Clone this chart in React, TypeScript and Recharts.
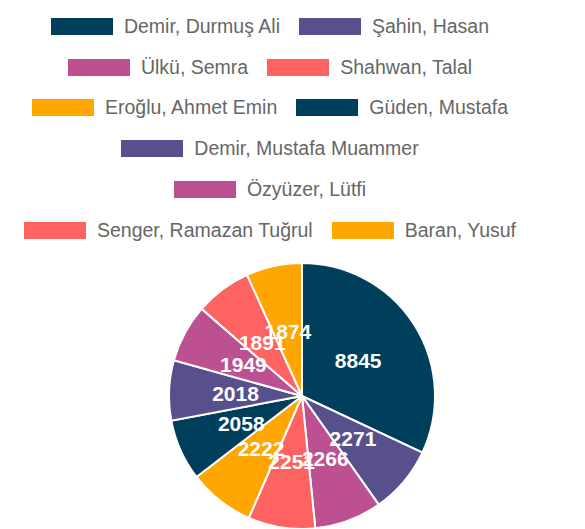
import React from "react";
import { PieChart, Pie, Cell, Legend } from "recharts";

const names = [
  "Demir, Durmuş Ali",
  "Şahin, Hasan",
  "Ülkü, Semra",
  "Shahwan, Talal",
  "Eroğlu, Ahmet Emin",
  "Güden, Mustafa",
  "Demir, Mustafa Muammer",
  "Özyüzer, Lütfi",
  "Senger, Ramazan Tuğrul",
  "Baran, Yusuf",
];

const counts = [8845, 2271, 2266, 2251, 2222, 2058, 2018, 1949, 1891, 1874];

const palette = ["#003f5c", "#58508d", "#bc5090", "#ff6361", "#ffa600"];

const data = names.map((name, i) => ({ name, value: counts[i] }));

// how the legend wraps in the original
const legendRows = [[0, 1], [2, 3], [4, 5], [6], [7], [8, 9]];

const RADIAN = Math.PI / 180;

const renderLabel = (props: any) => {
  const { cx, cy, midAngle, outerRadius, value } = props;
  const r = outerRadius / 2;
  const x = cx + r * Math.cos(-midAngle * RADIAN);
  const y = cy + r * Math.sin(-midAngle * RADIAN);
  return (
    <text
      x={x}
      y={y}
      fill="#ffffff"
      textAnchor="middle"
      dominantBaseline="central"
      style={{
        fontSize: "21px",
        fontWeight: "bold",
        fontFamily: "Liberation Sans, Arial, sans-serif",
      }}
    >
      {value}
    </text>
  );
};

const LegendContent = () => (
  <div style={{ width: 540, fontFamily: "Liberation Sans, Arial, sans-serif" }}>
    {legendRows.map((row, ri) => (
      <div
        key={ri}
        style={{
          height: 40.8,
          display: "flex",
          justifyContent: "center",
          alignItems: "center",
          gap: 19,
        }}
      >
        {row.map((i) => (
          <div key={i} style={{ display: "flex", alignItems: "center" }}>
            <span
              style={{
                display: "inline-block",
                width: 62,
                height: 17,
                background: palette[i % palette.length],
                marginRight: 11,
              }}
            />
            <span style={{ fontSize: "19.5px", color: "#666666", whiteSpace: "nowrap" }}>
              {names[i]}
            </span>
          </div>
        ))}
      </div>
    ))}
  </div>
);

export default function App() {
  return (
    <div style={{ position: "absolute", left: 0, top: 0 }}>
      <PieChart width={585} height={529}>
        <Legend
          content={<LegendContent />}
          wrapperStyle={{ position: "absolute", top: 6, left: 0, width: 540 }}
        />
        <Pie
          data={data}
          dataKey="value"
          nameKey="name"
          cx={297}
          cy={391}
          outerRadius={133}
          startAngle={90}
          endAngle={-270}
          stroke="#ffffff"
          strokeWidth={2}
          label={renderLabel}
          labelLine={false}
          isAnimationActive={false}
        >
          {data.map((d, i) => (
            <Cell key={d.name} fill={palette[i % palette.length]} />
          ))}
        </Pie>
      </PieChart>
    </div>
  );
}
